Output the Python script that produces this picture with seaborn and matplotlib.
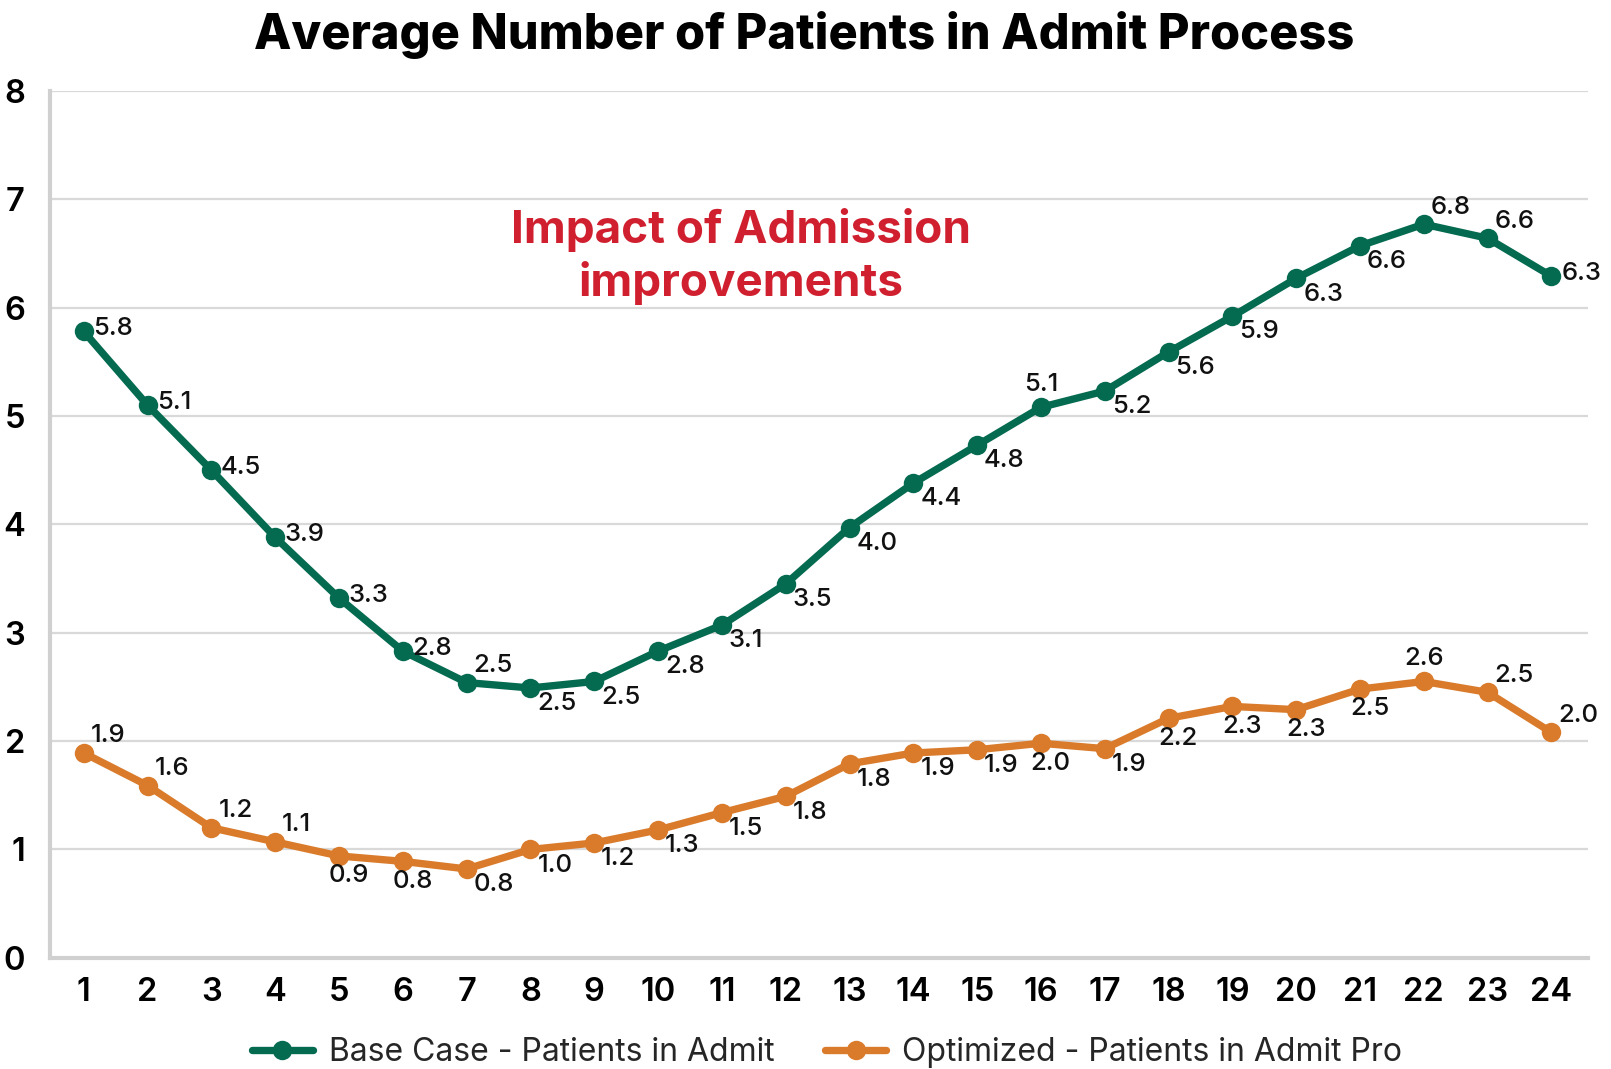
import numpy as np
import pandas as pd
import matplotlib
matplotlib.use("Agg")
import matplotlib.pyplot as plt
import seaborn as sns

# ---- data ----
hours = list(range(1, 25))
base_case = [5.78, 5.10, 4.50, 3.88, 3.32, 2.83, 2.54, 2.49, 2.55, 2.83, 3.07, 3.45,
             3.97, 4.38, 4.73, 5.08, 5.23, 5.59, 5.92, 6.27, 6.57, 6.77, 6.64, 6.29]
optimized = [1.89, 1.59, 1.20, 1.07, 0.94, 0.89, 0.82, 1.00, 1.06, 1.18, 1.34, 1.49,
             1.79, 1.89, 1.92, 1.98, 1.93, 2.21, 2.32, 2.29, 2.48, 2.55, 2.45, 2.08]
base_labels = ["5.8", "5.1", "4.5", "3.9", "3.3", "2.8", "2.5", "2.5", "2.5", "2.8", "3.1", "3.5",
               "4.0", "4.4", "4.8", "5.1", "5.2", "5.6", "5.9", "6.3", "6.6", "6.8", "6.6", "6.3"]
opt_labels = ["1.9", "1.6", "1.2", "1.1", "0.9", "0.8", "0.8", "1.0", "1.2", "1.3", "1.5", "1.8",
              "1.8", "1.9", "1.9", "2.0", "1.9", "2.2", "2.3", "2.3", "2.5", "2.6", "2.5", "2.0"]
series_names = ["Base Case - Patients in Admit", "Optimized - Patients in Admit Pro"]
title = "Average Number of Patients in Admit Process"
note = "Impact of Admission\nimprovements"

# label placement (layout only)
base_pos = ["r", "r", "r", "r", "r", "r", "ar", "br", "br", "br", "br", "br",
            "br", "br", "br", "a", "br", "br", "br", "br", "br", "ar", "ar", "r"]
opt_pos = ["ar", "ar", "ar", "ar", "b", "b", "br", "br", "br", "br", "br", "br",
           "br", "br", "br", "b", "br", "b", "b", "b", "b", "a", "ar", "ar"]

GREEN = "#046A50"
ORANGE = "#D97B2B"

df = pd.DataFrame({
    "hour": hours * 2,
    "value": base_case + optimized,
    "series": [series_names[0]] * 24 + [series_names[1]] * 24,
})

sns.set_style("white")
plt.rcParams["font.family"] = ["Inter", "DejaVu Sans"]

fig = plt.figure(figsize=(16.11, 10.69), dpi=100)
ax = fig.add_axes([0.031, 0.104, 0.955, 0.811])

sns.lineplot(data=df, x="hour", y="value", hue="series",
             palette=[GREEN, ORANGE], marker="o", markersize=14,
             markeredgewidth=0, linewidth=5.3, ax=ax, legend=True)

offs = {"r": (7, 2, "left", "center"), "ar": (5, 4, "left", "bottom"),
        "br": (5, -3, "left", "top"), "a": (0, 8, "center", "bottom"),
        "b": (7, -6, "center", "top")}

for vals, labs, poss in [(base_case, base_labels, base_pos), (optimized, opt_labels, opt_pos)]:
    for x, v, t, p in zip(hours, vals, labs, poss):
        dx, dy, ha, va = offs[p]
        ax.annotate(t, (x, v), xytext=(dx, dy), textcoords="offset points",
                    ha=ha, va=va, fontsize=18.5, fontweight="medium", color="#111111")

ax.set_xlim(0.47, 24.58)
ax.set_ylim(0, 8)
ax.set_yticks(range(0, 9))
ax.set_xticks(hours)
ax.set_xticks(np.arange(0.5, 25.0, 1.0), minor=True)
ax.tick_params(axis="x", which="major", length=0, labelsize=23.5, pad=14, labelcolor="black")
ax.tick_params(axis="x", which="minor", length=9, width=2, color="#D0D0D0")
ax.tick_params(axis="y", length=0, labelsize=23.5, pad=18, labelcolor="black")
for lab in ax.get_xticklabels() + ax.get_yticklabels():
    lab.set_fontweight("semibold")

ax.grid(axis="y", color="#D9D9D9", linewidth=1.6)
ax.set_axisbelow(True)
for s in ["top", "right"]:
    ax.spines[s].set_visible(False)
for s in ["left", "bottom"]:
    ax.spines[s].set_color("#D0D0D0")
    ax.spines[s].set_linewidth(3)
ax.set_xlabel("")
ax.set_ylabel("")

ax.text(11.3, 6.47, note, ha="center", va="center", fontsize=33,
        fontweight="bold", color="#D0202F", linespacing=1.25)

fig.suptitle(title, x=0.499, y=0.99, va="top", fontsize=35, fontweight="heavy",
             color="black")

handles, labels = ax.get_legend_handles_labels()
ax.legend(handles, labels, loc="upper center", bbox_to_anchor=(0.505, -0.058),
          ncol=2, frameon=False, fontsize=23, handlelength=1.9,
          columnspacing=1.6, handletextpad=0.5)

fig.savefig("out.png", dpi=100)
